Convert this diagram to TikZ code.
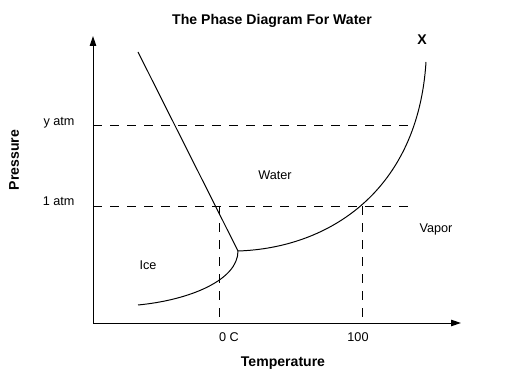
\documentclass[tikz,border=0pt]{standalone}
\usepackage{fontspec}
\setmainfont{Liberation Sans}
\usetikzlibrary{arrows.meta}
\begin{document}
\begin{tikzpicture}[x=0.025cm, y=-0.025cm, line width=0.7pt,
    every node/.style={font=\fontsize{9}{10}\selectfont, inner sep=0pt},
    guide/.style={dash pattern=on 6.4pt off 5.7pt},
    axis/.style={-{Triangle[length=7pt,width=4.5pt]}},
    heading/.style={font=\fontsize{10}{12}\selectfont\bfseries}]
    \useasboundingbox (0,0) rectangle (520,379);

    % The title
    \node[heading] (title) at (272,21) {The Phase Diagram For Water};

    % The axes
    \coordinate (origin) at (93,323);
    \draw[axis] (origin) -- (93,36);
    \draw[axis] (origin) -- (461,323);
    \node[heading, rotate=90] (pressure) at (14,160) {Pressure};
    \node[heading] (temperature) at (283,363) {Temperature};

    % Pressure levels
    \draw[guide] (93,125) -- (409,125);
    \draw[guide] (93,206) -- (409,206);
    \node[anchor=east] (yatm) at (75,123) {y atm};
    \node[anchor=east] (oneatm) at (75,201) {1 atm};

    % Melting and boiling points
    \draw[guide] (219,206) -- (219,323);
    \draw[guide] (362,206) -- (362,323);
    \node (zeroc) at (229,337) {0 C};
    \node (hundred) at (358,337) {100};

    % The phase boundaries
    \coordinate (triple) at (238,251);
    \draw (138,52) -- (triple);
    \draw (138,305) .. controls (190,300) and (238,280) .. (triple);
    \draw (triple) .. controls (330,248) and (418,190) .. (426,62);

    % The phases
    \node (ice) at (148,265) {Ice};
    \node (water) at (275,175) {Water};
    \node (vapor) at (436,229) {Vapor};
    \node[heading] (xmark) at (422,40) {X};
\end{tikzpicture}
\end{document}
